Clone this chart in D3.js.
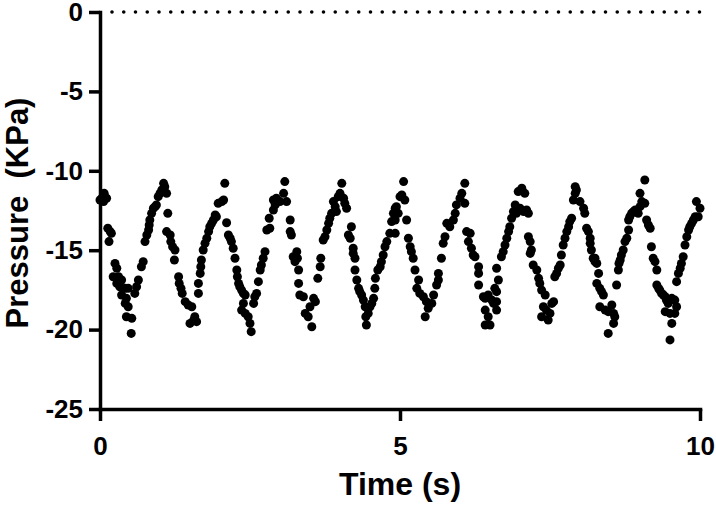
<!DOCTYPE html>
<html><head><meta charset="utf-8">
<script src="https://cdn.jsdelivr.net/npm/d3@7"></script>
<style>body{margin:0;background:#fff}svg{display:block}</style>
</head><body><svg id="c" width="716" height="506"></svg>
<script>
// Time (s) of each sample
const time = [
0.00,0.03,0.07,0.11,0.06,0.13,0.17,0.19,0.15,0.25,
0.28,0.22,0.31,0.28,0.36,0.33,0.42,0.36,0.47,0.44,
0.42,0.47,0.44,0.53,0.52,0.58,0.61,0.64,0.69,0.72,
0.75,0.78,0.81,0.82,0.83,0.86,0.89,0.92,0.94,0.97,
1.00,1.03,1.06,1.08,1.11,1.13,1.11,1.17,1.18,1.21,
1.25,1.24,1.31,1.32,1.35,1.37,1.42,1.47,1.53,1.50,1.56,
1.58,1.61,1.64,1.64,1.67,1.68,1.69,1.72,1.75,1.78,
1.81,1.83,1.86,1.89,1.92,1.94,1.97,2.03,2.06,2.08,
2.11,2.14,2.17,2.19,2.22,2.25,2.28,2.29,2.31,2.33,
2.36,2.39,2.42,2.39,2.36,2.42,2.47,2.50,2.52,2.56,
2.58,2.61,2.64,2.67,2.69,2.72,2.75,2.78,2.83,2.82,
2.89,2.92,2.89,2.94,3.00,3.06,3.08,3.11,3.17,3.17,
3.19,3.22,3.25,
3.28,3.29,3.31,3.31,3.33,3.39,3.42,3.47,3.50,3.53,
3.56,3.59,3.63,3.67,3.68,3.72,3.75,3.78,3.81,3.83,
3.86,3.89,3.92,3.94,3.97,4.00,4.03,4.06,4.08,4.11,
4.14,4.17,4.19,4.22,4.22,4.25,4.25,4.28,4.31,4.33,
4.36,4.39,4.42,4.43,4.44,4.47,4.50,4.53,4.56,4.58,
4.59,4.63,4.67,4.69,4.72,4.75,4.78,4.83,4.86,4.89,4.92,
4.92,4.92,4.94,4.97,5.00,5.03,5.06,5.08,5.11,5.14,
5.17,5.19,5.22,5.25,5.31,5.28,5.33,5.39,5.44,5.47,
5.42,5.53,5.56,5.61,5.64,5.64,5.69,5.72,5.75,5.78,
5.83,5.89,5.92,5.94,6.00,6.03,6.08,6.08,6.11,6.17,
6.14,6.19,6.22,6.25,6.31,6.31,6.31,6.39,6.42,6.47,
6.53,6.56,6.42,6.47,6.50,6.42,6.58,
6.61,6.64,6.61,6.61,6.61,6.69,6.72,6.75,6.78,6.81,
6.83,6.86,6.89,6.92,6.94,7.00,7.06,7.11,7.14,6.97,
7.03,7.08,7.14,7.17,7.19,7.17,7.22,7.28,7.31,7.33,
7.36,7.42,7.39,7.36,7.44,7.47,7.50,7.53,7.56,7.58,
7.61,7.64,7.67,7.69,7.72,7.75,7.78,7.81,7.83,7.86,
7.89,7.92,7.92,7.94,8.00,8.06,8.08,8.11,8.14,8.17,
8.17,8.19,8.22,8.25,
8.25,8.28,8.31,8.28,8.33,8.36,8.39,8.33,8.42,8.47,
8.53,8.56,8.58,8.56,8.47,8.61,8.64,8.65,8.67,8.69,
8.72,8.75,8.78,8.81,8.81,8.83,8.86,8.89,8.92,8.97,
9.00,9.03,9.00,9.08,9.08,9.11,9.14,9.17,9.19,9.22,
9.25,9.28,9.28,9.31,9.33,9.36,9.39,9.42,9.44,9.47,
9.53,9.58,9.61,9.50,9.42,9.58,9.53,9.50,9.61,9.64,
9.67,9.69,9.72,9.75,9.78,9.81,9.83,9.86,9.89,9.92,
9.97,10.00,9.94
];
// Pressure (KPa) of each sample, same order
const pressure = [
-11.84,-11.73,-11.42,-11.73,-11.94,-13.62,-13.83,-13.94,-14.46,-15.83,
-16.14,-16.67,-16.67,-17.09,-16.88,-17.30,-17.40,-17.82,-17.40,-18.03,
-18.35,-18.56,-19.19,-19.29,-20.24,-17.72,-17.30,-16.88,-16.04,-15.72,
-14.46,-14.04,-13.73,-13.41,-13.10,-12.68,-12.36,-12.26,-12.15,-11.63,
-11.42,-11.21,-10.79,-11.00,-11.42,-12.68,-13.83,-14.04,-14.46,-14.78,
-14.99,-15.62,-16.67,-17.09,-17.40,-17.72,-18.24,-18.45,-18.56,-19.61,-19.40,
-19.19,-19.50,-17.72,-17.09,-16.46,-16.04,-15.62,-14.99,-14.57,-14.25,
-13.83,-13.52,-13.31,-13.10,-12.78,-12.89,-12.05,-11.94,-11.84,-10.79,
-13.27,-14.04,-14.25,-14.46,-14.88,-15.51,-16.25,-16.67,-17.09,-17.30,
-17.51,-17.72,-17.82,-18.35,-18.77,-18.98,-19.19,-19.61,-20.13,-18.35,
-17.93,-17.72,-16.98,-16.25,-15.93,-15.51,-15.09,-13.73,-13.62,-12.99,
-12.47,-12.15,-11.84,-11.73,-11.94,-11.42,-10.68,-11.94,-13.10,-13.83,
-14.04,-15.41,-15.72,
-15.09,-15.51,-16.25,-17.09,-17.82,-17.93,-18.98,-19.19,-18.56,-19.82,
-18.03,-18.24,-16.77,-16.04,-15.51,-14.36,-14.15,-13.73,-13.31,-12.99,
-12.68,-11.94,-12.26,-12.57,-11.63,-11.42,-10.79,-11.73,-12.05,-12.36,
-14.04,-14.25,-13.52,-14.88,-15.20,-15.51,-16.25,-16.88,-17.40,-17.61,
-17.82,-18.14,-18.56,-19.19,-19.71,-18.98,-18.56,-18.35,-18.03,-17.40,
-16.77,-16.25,-16.04,-15.72,-15.30,-14.78,-14.46,-13.94,-13.20,-12.68,-12.36,
-13.10,-13.94,-12.26,-12.68,-11.63,-11.52,-10.68,-11.84,-13.10,-14.25,
-14.78,-15.09,-15.51,-16.25,-16.88,-17.40,-17.72,-17.93,-18.24,-18.66,
-19.19,-18.35,-17.82,-17.19,-16.88,-16.46,-15.51,-14.57,-14.15,-13.31,
-13.52,-13.10,-12.68,-12.15,-11.73,-11.42,-10.79,-12.05,-13.83,-13.94,
-14.46,-14.88,-15.30,-15.41,-16.04,-16.46,-17.19,-17.93,-18.03,-17.82,
-18.14,-18.35,-18.77,-19.19,-19.71,-19.71,-17.40,
-16.14,-16.88,-17.61,-18.24,-18.77,-15.41,-15.09,-14.67,-14.25,-13.83,
-13.52,-12.99,-12.57,-12.15,-12.68,-12.36,-12.57,-12.47,-12.68,-11.31,
-11.10,-11.42,-14.15,-14.46,-14.99,-15.20,-15.93,-16.25,-16.77,-17.09,
-17.51,-17.82,-18.56,-19.19,-18.77,-19.40,-18.98,-18.35,-18.24,-16.67,
-16.46,-16.14,-15.93,-15.30,-14.67,-14.25,-13.83,-13.52,-13.20,-12.99,
-11.84,-11.42,-11.00,-11.21,-11.94,-12.36,-12.68,-13.62,-13.83,-14.25,
-14.57,-14.99,-15.51,-15.72,
-15.51,-15.83,-16.46,-17.09,-17.40,-17.61,-17.82,-18.56,-18.77,-18.87,
-18.45,-18.98,-19.19,-19.61,-20.24,-17.19,-16.25,-15.83,-15.62,-15.30,
-14.99,-14.46,-14.25,-13.73,-13.10,-12.89,-12.68,-12.57,-12.47,-12.68,
-12.26,-11.94,-11.42,-10.58,-12.05,-13.10,-13.41,-13.62,-14.78,-15.51,
-15.72,-16.25,-17.19,-17.40,-17.51,-17.72,-17.82,-17.93,-18.14,-18.35,
-18.03,-18.14,-18.56,-18.98,-18.87,-18.98,-19.61,-20.65,-16.98,-16.46,
-16.14,-15.83,-15.41,-14.67,-14.15,-13.73,-13.52,-13.31,-13.10,-12.89,
-12.89,-12.36,-11.94
];
const xTicks = [0, 5, 10];
const yTicks = [0, -5, -10, -15, -20, -25];
const xTitle = "Time (s)";
const yTitle = "Pressure  (KPa)";

const svg = d3.select("#c");
const font = "'Liberation Sans', Arial, Helvetica, sans-serif";
const x = d3.scaleLinear().domain([0, 10]).range([100, 700]);
const y = d3.scaleLinear().domain([-25, 0]).range([409, 12]);

// dotted reference line at 0
svg.append("line")
  .attr("x1", x(0) + 12).attr("x2", x(10))
  .attr("y1", y(0)).attr("y2", y(0))
  .style("stroke", "#000").style("stroke-width", "3.6px")
  .style("stroke-linecap", "round").style("stroke-dasharray", "0 11.75");

// points
const pts = time.map((t, i) => ({t, p: pressure[i]}));
svg.append("g").selectAll("circle").data(pts).join("circle")
  .attr("cx", d => x(d.t)).attr("cy", d => y(d.p))
  .attr("r", 4.5).attr("fill", "#000");

// axes
const xa = svg.append("g").attr("transform", `translate(0,${y(-25)})`)
  .call(d3.axisBottom(x).tickValues(xTicks).tickSize(12).tickSizeOuter(0)
    .tickPadding(16).tickFormat(d => String(d)));
const ya = svg.append("g").attr("transform", `translate(${x(0)},0)`)
  .call(d3.axisLeft(y).tickValues(yTicks).tickSize(11).tickSizeOuter(0)
    .tickPadding(6).tickFormat(d => String(d)));

[xa, ya].forEach(g => {
  g.select(".domain").style("stroke", "#000").style("stroke-width", "3.5px").style("stroke-linecap", "square");
  g.selectAll(".tick line").style("stroke", "#000").style("stroke-width", "3.5px");
  g.selectAll(".tick text").style("fill", "#000")
    .style("font-family", font).style("font-weight", "bold").style("font-size", "26px");
});

// titles
svg.append("text").attr("x", x(5)).attr("y", 495)
  .attr("text-anchor", "middle")
  .style("font-family", font).style("font-weight", "bold").style("font-size", "32px")
  .text(xTitle);
svg.append("text")
  .attr("transform", "translate(28,213) rotate(-90)")
  .attr("text-anchor", "middle")
  .style("white-space", "pre")
  .style("font-family", font).style("font-weight", "bold").style("font-size", "31px")
  .text(yTitle);
</script>
</body></html>
